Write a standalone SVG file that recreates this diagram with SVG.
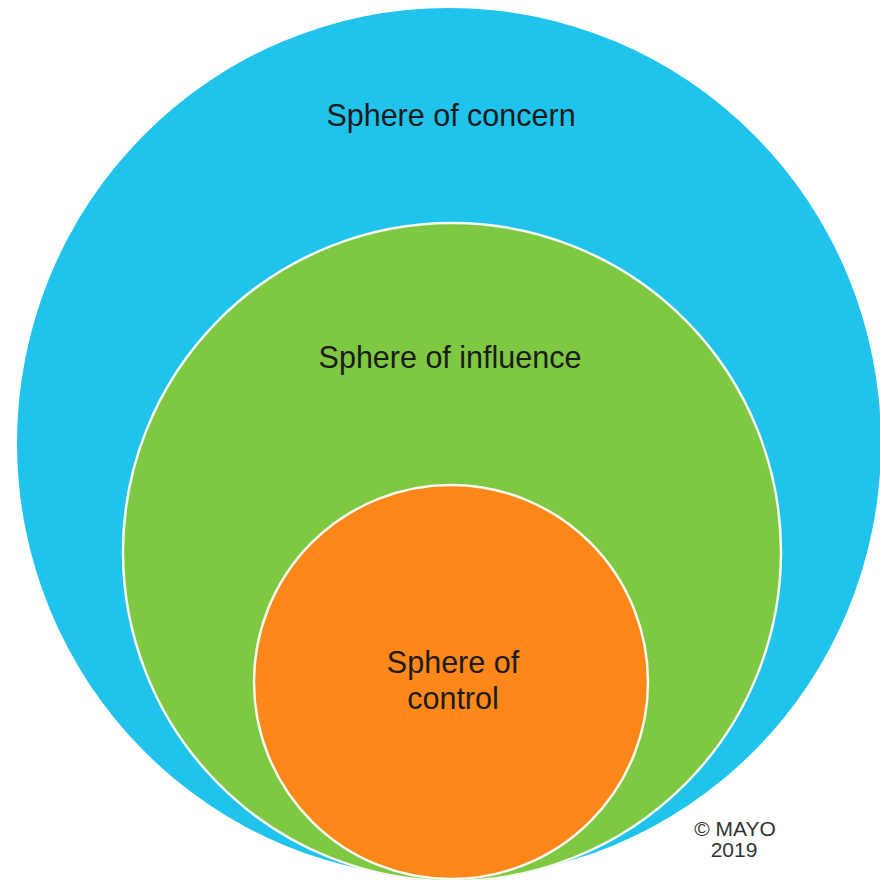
<svg xmlns="http://www.w3.org/2000/svg" width="880" height="880" viewBox="0 0 880 880">
<style>
.lbl{font-family:"Liberation Sans",Arial,sans-serif;font-size:30.5px;fill:#1b1b1b;text-anchor:middle}
.cr{font-family:"Liberation Sans",Arial,sans-serif;font-size:21px;fill:#333;text-anchor:middle}
.ring{stroke:#f4f8ee;stroke-width:2.5}
</style>
<rect width="880" height="880" fill="#ffffff"/>
<g id="concern">
<ellipse cx="449" cy="443" rx="432" ry="435" fill="#1fc3eb"/>
<text class="lbl" x="451" y="126">Sphere of concern</text>
</g>
<g id="influence">
<circle class="ring" cx="452" cy="552" r="329" fill="#7ec842"/>
<text class="lbl" x="450" y="368">Sphere of influence</text>
</g>
<g id="control">
<circle class="ring" cx="451" cy="682" r="197" fill="#fd8718"/>
<text class="lbl" x="453" y="673">Sphere of</text>
<text class="lbl" x="453" y="709">control</text>
</g>
<g id="copyright">
<text class="cr" x="735" y="836">© MAYO</text>
<text class="cr" x="734" y="857">2019</text>
</g>
<g id="connectors"/>
</svg>
